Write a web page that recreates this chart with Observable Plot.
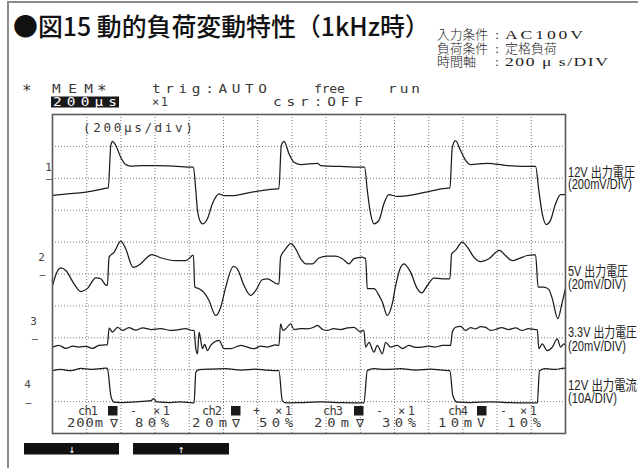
<!DOCTYPE html>
<html><head><meta charset="utf-8">
<script src="https://cdn.jsdelivr.net/npm/d3@7"></script>
<script src="https://cdn.jsdelivr.net/npm/@observablehq/plot@0.6"></script>
<style>
html,body{margin:0;padding:0;background:#fff;}
#page{position:relative;width:638px;height:468px;overflow:hidden;background:#fff;}
#page svg{position:absolute;left:0;top:0;}
</style></head><body><div id="page"></div>
<script>
// ---- Data: time in microseconds (200 µs/div), level in screen divisions (0 = bottom, 10 = top)
const ch1T = [0,88,185,282,317,326,341,351,370,399,428,457,516,614,711,818,824,838,848,867,880,906,935,974,1003,1061,1159,1257,1315,1324,1338,1354,1383,1412,1451,1549,1568,1685,1818,1825,1841,1860,1880,1909,1938,1967,2016,2114,2211,2318,2324,2338,2357,2386,2416,2445,2542,2659,2815,2825,2844,2864,2887,2912,2942,2971,3000];
const ch1V = [7.46,7.51,7.56,7.65,7.69,7.69,9.03,9.16,9.03,8.66,8.43,8.38,8.40,8.40,8.38,8.35,8.35,7.62,6.99,6.62,6.57,6.73,7.20,7.51,7.46,7.46,7.56,7.64,7.67,7.67,9.03,9.16,8.77,8.50,8.43,8.47,8.40,8.37,8.35,8.35,7.62,6.89,6.57,6.68,7.20,7.49,7.43,7.49,7.60,7.69,7.69,8.97,9.18,8.87,8.56,8.43,8.47,8.40,8.37,8.37,7.62,6.89,6.55,6.68,7.20,7.49,7.49];

const ch2T = [0,25,49,78,126,165,205,253,282,316,321,331,360,399,428,471,516,545,580,633,721,779,808,818,824,832,857,884,915,954,984,1013,1058,1081,1120,1159,1188,1227,1257,1295,1315,1324,1334,1364,1393,1422,1451,1481,1520,1558,1607,1656,1695,1734,1763,1812,1821,1831,1841,1880,1909,1929,1958,1987,2007,2036,2055,2094,2133,2159,2192,2230,2280,2318,2324,2334,2357,2396,2426,2464,2503,2552,2614,2649,2689,2727,2776,2815,2825,2840,2873,2903,2923,2955,2981,3000];
const ch2V = [4.64,5.05,5.19,5.11,4.69,4.45,4.55,4.88,4.85,4.64,4.64,5.53,5.68,6.03,5.79,5.21,5.32,5.48,5.61,5.51,5.42,5.42,5.53,5.58,5.58,4.59,4.54,4.43,4.17,3.70,3.96,4.59,5.24,5.16,4.64,4.33,4.48,4.82,4.85,4.74,4.69,4.69,5.53,5.79,5.95,5.79,5.48,5.32,5.32,5.50,5.56,5.56,5.48,5.32,5.48,5.53,5.50,5.50,4.54,4.54,4.33,4.12,3.70,4.07,4.64,5.21,5.32,5.06,4.54,4.41,4.64,4.87,4.85,4.85,4.85,5.63,5.74,6.00,5.84,5.53,5.39,5.48,5.74,5.58,5.42,5.48,5.58,5.60,5.60,4.59,4.59,4.51,4.22,3.60,4.12,4.55];

const ch3T = [0,37,78,119,155,195,234,271,312,321,331,351,380,411,446,487,528,575,633,691,740,779,818,828,838,848,857,864,877,890,906,925,945,974,1003,1042,1101,1178,1218,1257,1305,1315,1324,1334,1348,1364,1393,1412,1451,1490,1527,1549,1580,1607,1644,1685,1726,1763,1802,1814,1821,1831,1851,1880,1899,1929,1948,1977,2016,2047,2084,2123,2163,2199,2238,2281,2318,2328,2338,2357,2386,2416,2445,2474,2503,2533,2562,2591,2626,2669,2708,2747,2784,2825,2835,2844,2864,2893,2923,2952,2971,2991,3000];
const ch3V = [2.71,2.76,2.67,2.74,2.71,2.73,2.67,2.76,2.78,2.78,3.30,3.18,3.33,3.23,3.32,3.24,3.31,3.26,3.29,3.23,3.26,3.29,3.23,3.23,2.66,2.50,3.18,3.02,2.66,2.79,2.60,2.76,2.86,2.92,2.66,2.66,2.76,2.66,2.74,2.71,2.78,2.76,2.76,3.44,3.23,3.28,3.44,3.26,3.29,3.28,3.33,3.39,3.26,3.23,3.29,3.26,3.31,3.33,3.18,3.23,3.23,2.71,2.86,2.55,2.76,2.50,2.86,2.71,2.76,2.66,2.76,2.70,2.71,2.74,2.71,2.76,2.76,2.76,3.18,3.33,3.36,3.23,3.32,3.28,3.35,3.33,3.23,3.26,3.32,3.26,3.31,3.23,3.29,3.26,3.26,2.66,2.81,2.60,2.71,2.97,2.71,2.81,2.76];

const ch4T = [0,49,107,165,224,282,312,321,341,360,399,487,575,592,610,691,750,818,828,838,857,925,1013,1101,1188,1247,1315,1324,1344,1364,1451,1568,1685,1793,1821,1841,1880,1948,2036,2123,2211,2318,2324,2341,2367,2445,2562,2679,2806,2835,2848,2883,2942,2991,3000];
const ch4V = [1.97,2.01,1.97,2.04,2.01,2.03,2.05,2.04,1.19,0.98,0.97,0.99,1.03,1.09,0.99,0.97,0.99,0.96,0.96,1.92,2.00,2.02,2.03,1.99,2.02,1.99,1.97,1.97,1.03,0.96,0.97,0.99,0.97,0.96,0.96,1.97,2.03,2.01,2.03,1.99,2.02,1.97,1.97,1.19,0.98,0.97,0.99,0.97,0.96,0.96,1.97,2.03,2.01,2.05,2.04];

// channel markers (screen divisions)
const chNames = ["1","2","3","4"];
const chNameY = [8.34,5.52,3.51,1.54];
const chZeroY = [7.99,4.98,2.98,0.97];

// texts
const titleText = "●図15 動的負荷変動特性（1kHz時）";
const condKeys = ["入力条件","負荷条件","時間軸"];
const condVals = ["AC100V","定格負荷","200 μ s/DIV"];
const sideLabels = ["12V 出力電圧","(200mV/DIV)","5V 出力電圧","(20mV/DIV)","3.3V 出力電圧","(20mV/DIV)","12V 出力電流","(10A/DIV)"];
const chTags = ["ch1","ch2","ch3","ch4"];
const chSigns = ["-","+","-","-"];
const chVolts = ["200m","20m","20m","10m"];
const chUnits = ["∇","∇","∇","V"];
const chPos = ["80%","50%","30%","10%"];

// ---- build table
const series = [[ch1T,ch1V],[ch2T,ch2V],[ch3T,ch3V],[ch4T,ch4V]];
const rows = [];
series.forEach(([T,V],i)=>T.forEach((t,j)=>rows.push({ch:chNames[i], t, v:V[j]})));
const markers = chNames.map((n,i)=>({name:n, y:chNameY[i], zero:chZeroY[i]}));

const mono = "DejaVu Sans Mono, monospace";
const nameDx = [-4,-11,-19,-25];
const zeroDx = [-3.5,-10,-17.5,-24];

const marks = [
  Plot.ruleX(d3.range(200,3000,200), {stroke:"#7a7a7a", strokeWidth:1, strokeDasharray:"1,2"}),
  Plot.ruleY(d3.range(1,10), {stroke:"#7a7a7a", strokeWidth:1, strokeDasharray:"1,2"}),
  Plot.line(rows, {x:"t", y:"v", z:"ch", stroke:"#1c1c1c", strokeWidth:1.25, curve:"monotone-x"}),
  Plot.frame({stroke:"#5a5a5a", strokeWidth:1.6})
];
markers.forEach((m,i)=>{
  marks.push(Plot.text([m], {frameAnchor:"left", y:"y", text:"name", dx:nameDx[i], textAnchor:"middle", fontFamily:mono, fontSize:11, fill:"#444"}));
  marks.push(Plot.text([m], {frameAnchor:"left", y:"zero", text:()=>"—", dx:zeroDx[i], textAnchor:"middle", fontFamily:mono, fontSize:10, fill:"#444"}));
});

const plot = Plot.plot({
  width:638, height:468,
  marginLeft:52, marginRight:73, marginTop:114, marginBottom:35,
  x:{domain:[0,3000], axis:null},
  y:{domain:[0,10], axis:null},
  style:{background:"transparent", overflow:"visible"},
  marks
});
document.getElementById("page").append(plot);

// ---- overlay for page texts
const ov = d3.select("#page").append("svg").attr("width",638).attr("height",468);
// F: place text at (x, baseline y); fit to width len either by horizontal scale or by letter spacing
function F(x,y,s,o={}){
  const g = ov.append("g").attr("transform",`translate(${x},${y})`);
  const t = g.append("text").attr("x",0).attr("y",0).text(s)
    .attr("font-family", o.font || mono).attr("font-size", o.size || 12)
    .attr("fill", o.fill || "#3a3a3a");
  if (o.weight) t.attr("font-weight", o.weight);
  if (o.anchor) t.attr("text-anchor", o.anchor);
  if (o.len) {
    const w = t.node().getComputedTextLength();
    const n = [...s].length;
    if (o.ls && n > 1) {
      const sx = o.sx || 1;
      const ls = (o.len/sx - w)/(n-1);
      t.attr("letter-spacing", ls);
      g.attr("transform",`translate(${x},${y}) scale(${sx},1)`);
    } else {
      g.attr("transform",`translate(${x},${y}) scale(${o.len/w},1)`);
    }
  }
  return t;
}
// page frame
ov.append("line").attr("x1",8).attr("x2",8).attr("y1",2).attr("y2",468).attr("stroke","#8c8c8c").attr("stroke-width",2);
ov.append("line").attr("x1",7).attr("x2",638).attr("y1",2).attr("y2",2).attr("stroke","#8c8c8c").attr("stroke-width",2);

// title
F(13,36,titleText,{font:"Noto Sans CJK JP, sans-serif", size:25, weight:500, fill:"#111", len:417});
// conditions
const cjkS = "Noto Sans CJK JP, sans-serif", serif = "Liberation Serif, Noto Sans CJK JP, serif";
const condY = [39,52.5,66];
const keyLen = [51,51,39];
const valLen = [78,52,103];
condKeys.forEach((k,i)=>{
  F(437,condY[i],k,{font:cjkS,size:13,weight:300,fill:"#222",len:keyLen[i]});
  F(497,condY[i],":",{font:serif,size:13,fill:"#222",anchor:"middle"});
  if (i===1) F(505,condY[i],condVals[i],{font:cjkS,size:13,weight:300,fill:"#222",len:valLen[i]});
  else F(505,condY[i],condVals[i],{font:serif,size:13.5,fill:"#222",len:valLen[i],ls:true,sx:1.3});
});

// scope status rows
F(22,96,"*",{size:16});
F(52,93,"MEM",{len:41,ls:true,sx:1.2});
F(97,96,"*",{size:16});
F(152,93,"trig:AUTO",{len:115,ls:true,sx:1.2});
F(314,93,"free",{len:31,ls:true,sx:1.1});
F(388,93,"run",{len:32,ls:true,sx:1.2});
ov.append("rect").attr("x",51).attr("y",96.5).attr("width",68).attr("height",11).attr("fill","#1a1a1a");
F(53,106,"200µs",{len:64,ls:true,sx:1.2,fill:"#fff"});
F(152,106,"×1",{len:16,ls:true});
F(273,106,"csr:OFF",{len:90,ls:true,sx:1.2});

// inside frame
F(83,132,"(200µs/div)",{len:110,ls:true,sx:1.1,size:11.5});
const tagX = [78,202,323,448], boxX=[108,231,354,477], signX=[130,253,376,500], multX=[153,275,398,520];
const voltX = [67,192,314,438], voltL=[36,35,35,34], unitX=[110,232,356,477], posX=[135,259,382,507];
chTags.forEach((c,i)=>{
  F(tagX[i],415,c,{len:20,ls:true});
  ov.append("rect").attr("x",boxX[i]).attr("y",406).attr("width",9.5).attr("height",9.5).attr("fill","#1a1a1a");
  F(signX[i],415,chSigns[i],{len:7});
  F(multX[i],415,"×1",{len:17,ls:true});
  F(voltX[i],427,chVolts[i],{len:voltL[i],ls:true,sx:1.15});
  F(unitX[i],427,chUnits[i],{len:8});
  F(posX[i],427,chPos[i],{len:34,ls:true,sx:1.15});
});

// buttons
ov.append("rect").attr("x",24).attr("y",443).attr("width",95).attr("height",11.5).attr("fill","#111");
ov.append("rect").attr("x",133).attr("y",443).attr("width",96).attr("height",11.5).attr("fill","#111");
F(71.7,453,"↓",{fill:"#fff",size:11,anchor:"middle"});
F(181,453,"↑",{fill:"#fff",size:11,anchor:"middle"});

// right side labels
const sideY = [177,188.5,276,289,337,351,390,403];
const sideL = [67,64,60,58,69,58,69,49];
sideLabels.forEach((s,i)=>F(568,sideY[i],s,{font:"Liberation Sans, Noto Sans CJK JP, sans-serif", size:14, fill:"#222", len:sideL[i]}));
</script>
</body></html>
